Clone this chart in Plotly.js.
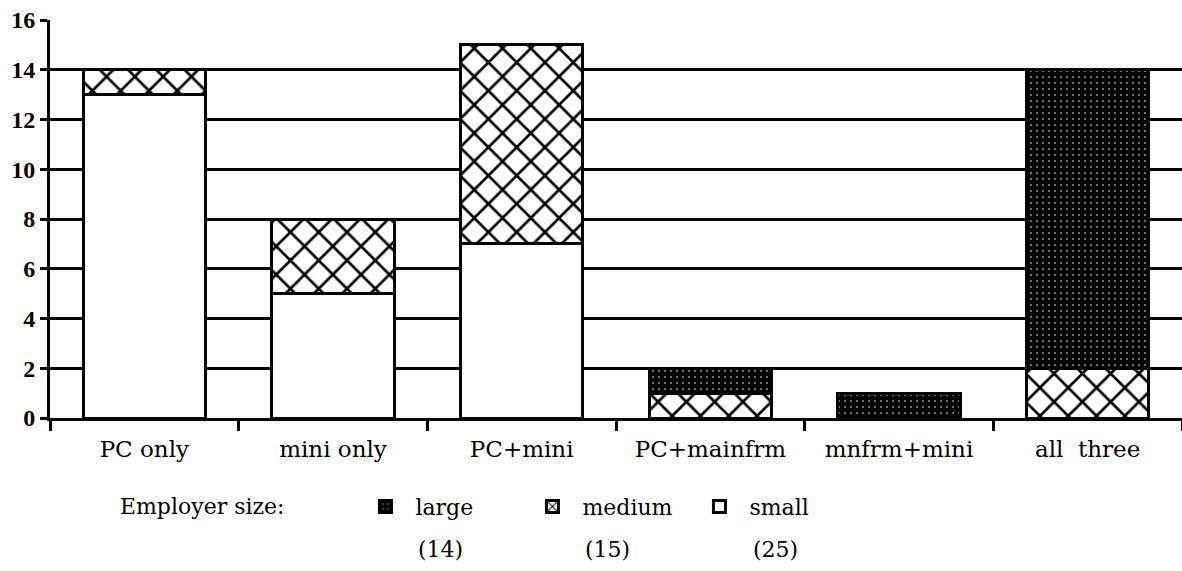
<!DOCTYPE html>
<html>
<head>
<meta charset="utf-8">
<script src="https://cdn.plot.ly/plotly-3.0.1.min.js"></script>
<style>
html,body{margin:0;padding:0;background:#fff;}
#chart{width:1182px;height:571px;}
</style>
</head>
<body>
<div id="chart"></div>
<script>
// Data
const categories = ["PC only", "mini only", "PC+mini", "PC+mainfrm", "mnfrm+mini", "all  three"];
const small  = [13, 5, 7, 0, 0, 0];
const medium = [1, 3, 8, 1, 0, 2];
const large  = [0, 0, 0, 1, 1, 12];
const seriesNames = ["large", "medium", "small"];
const seriesCounts = [14, 15, 25];
const yTicks = [0, 2, 4, 6, 8, 10, 12, 14, 16];

const FONT = "DejaVu Serif, Liberation Serif, serif";
const NUMFONT = "Liberation Serif, serif";

const traces = [
  {
    type: "bar", x: categories, y: small, name: seriesNames[2],
    marker: {color: "#ffffff", line: {color: "#000", width: 3}}
  },
  {
    type: "bar", x: categories, y: medium, name: seriesNames[1],
    marker: {color: "#ffffff", line: {color: "#000", width: 3},
      pattern: {shape: "x", fgcolor: "#000", bgcolor: "#fff", size: 20, solidity: 0.25, fillmode: "replace"}}
  },
  {
    type: "bar", x: categories, y: large, name: seriesNames[0],
    marker: {color: "#000000", line: {color: "#000", width: 3},
      pattern: {shape: ".", fgcolor: "#ffffff", bgcolor: "#000", size: 6, solidity: 0.08, fgopacity: 0.6, fillmode: "replace"}}
  }
];

// counts shown under legend entries
const countX = [0.323, 0.471, 0.619];
const annotations = seriesCounts.map((c, i) => ({
  text: "(" + c + ")", xref: "paper", yref: "paper",
  x: countX[i], y: -0.33, xanchor: "left", yanchor: "middle",
  showarrow: false, font: {family: FONT, size: 22, color: "#000"}
}));

const layout = {
  width: 1182, height: 571,
  margin: {l: 50, r: 0, t: 20, b: 153},
  paper_bgcolor: "#fff", plot_bgcolor: "#fff",
  barmode: "stack", bargap: 0.35,
  font: {family: FONT, color: "#000", size: 22},
  showlegend: true,
  legend: {
    orientation: "h", x: 0.06, xanchor: "left", y: -0.17, yanchor: "top",
    traceorder: "reversed", itemwidth: 50,
    entrywidth: 102, entrywidthmode: "pixels",
    title: {text: "Employer size:\u00a0\u00a0\u00a0\u00a0\u00a0\u00a0\u00a0\u00a0\u00a0", side: "left", font: {family: FONT, size: 22}},
    font: {family: FONT, size: 22}
  },
  annotations: annotations,
  xaxis: {
    type: "category", range: [-0.5, 5.5],
    showline: true, linecolor: "#000", linewidth: 3,
    ticks: "outside", tickson: "boundaries", ticklen: 10, tickwidth: 3, tickcolor: "#000",
    ticklabelstandoff: 8,
    showgrid: false, zeroline: false,
    tickfont: {family: FONT, size: 23}
  },
  yaxis: {
    range: [0, 16], tickvals: yTicks, ticktext: yTicks.map(String),
    showline: true, linecolor: "#000", linewidth: 3,
    ticks: "outside", ticklen: 7, tickwidth: 3, tickcolor: "#000",
    showgrid: true, gridcolor: "#000", gridwidth: 3,
    zeroline: false,
    tickfont: {family: NUMFONT, size: 24, weight: "bold"}
  }
};

Plotly.newPlot("chart", traces, layout, {displayModeBar: false, staticPlot: true});
</script>
</body>
</html>
